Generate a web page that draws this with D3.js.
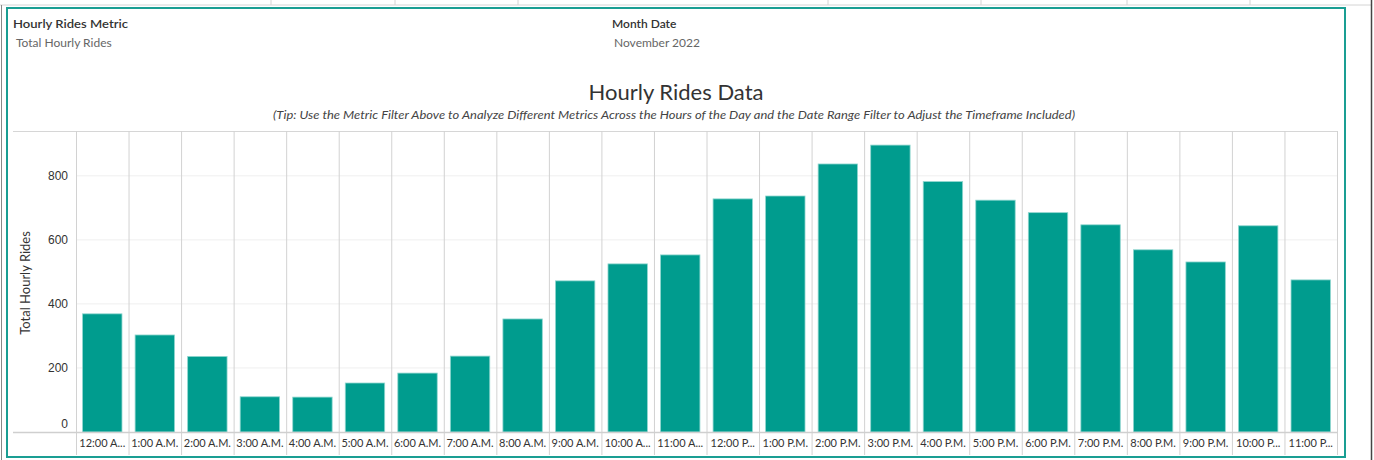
<!DOCTYPE html>
<html>
<head>
<meta charset="utf-8">
<script src="https://cdn.jsdelivr.net/npm/d3@7"></script>
<style>
  body { margin: 0; background: #fff; }
  svg text { font-family: Lato, "Open Sans", sans-serif; }
</style>
</head>
<body>
<div id="chart"></div>
<script>
// Data
var hours = ["12:00 A.M.", "1:00 A.M.", "2:00 A.M.", "3:00 A.M.", "4:00 A.M.", "5:00 A.M.",
    "6:00 A.M.", "7:00 A.M.", "8:00 A.M.", "9:00 A.M.", "10:00 A.M.", "11:00 A.M.",
    "12:00 P.M.", "1:00 P.M.", "2:00 P.M.", "3:00 P.M.", "4:00 P.M.", "5:00 P.M.",
    "6:00 P.M.", "7:00 P.M.", "8:00 P.M.", "9:00 P.M.", "10:00 P.M.", "11:00 P.M."];
var rides = [369, 303, 236, 110, 109, 153, 184, 237, 353, 472, 525, 553,
    728, 737, 837, 896, 782, 724, 685, 647, 569, 531, 644, 475];
var yTicks = [0, 200, 400, 600, 800];

var svgWidth = 1374;
var svgHeight = 460;

var plot = { left: 76, right: 1337, top: 131, bottom: 432 };

var svg = d3.select("#chart")
    .append("svg")
    .attr("width", svgWidth)
    .attr("height", svgHeight);

// header strip of the dashboard (cut off at the top)
svg.append("line")
    .attr("x1", 0).attr("x2", 1371).attr("y1", 5).attr("y2", 5)
    .attr("stroke", "#d4d4d4");
[271, 395, 518, 828, 981, 1127, 1250].forEach(function(x) {
    svg.append("line")
        .attr("x1", x).attr("x2", x).attr("y1", 0).attr("y2", 5)
        .attr("stroke", "#d4d4d4");
});
svg.append("line")
    .attr("x1", 1371.5).attr("x2", 1371.5).attr("y1", 0).attr("y2", 460)
    .attr("stroke", "#444").attr("stroke-width", 1.5);
svg.append("line")
    .attr("x1", 1.5).attr("x2", 1.5).attr("y1", 5).attr("y2", 460)
    .attr("stroke", "#888");

// teal container border
svg.append("rect")
    .attr("x", 7).attr("y", 8)
    .attr("width", 1338).attr("height", 449)
    .attr("fill", "none")
    .attr("stroke", "#1a9e93")
    .attr("stroke-width", 2);

// filter captions
svg.append("text").attr("x", 13).attr("y", 28)
    .attr("font-size", "12px").attr("font-weight", 600).attr("fill", "#333")
    .attr("textLength", 115).attr("lengthAdjust", "spacingAndGlyphs")
    .text("Hourly Rides Metric");
svg.append("text").attr("x", 16).attr("y", 47)
    .attr("font-size", "12px").attr("fill", "#666")
    .text("Total Hourly Rides");
svg.append("text").attr("x", 612).attr("y", 28)
    .attr("font-size", "12px").attr("font-weight", 600).attr("fill", "#333")
    .text("Month Date");
svg.append("text").attr("x", 614).attr("y", 47)
    .attr("font-size", "12px").attr("fill", "#666")
    .text("November 2022");

// titles
svg.append("text")
    .attr("x", 676).attr("y", 100)
    .attr("text-anchor", "middle")
    .attr("font-size", "21px").attr("fill", "#333")
    .attr("textLength", 175).attr("lengthAdjust", "spacingAndGlyphs")
    .text("Hourly Rides Data");
svg.append("text")
    .attr("x", 674).attr("y", 119)
    .attr("text-anchor", "middle")
    .attr("font-size", "11.5px").attr("font-style", "italic").attr("fill", "#444")
    .attr("textLength", 802).attr("lengthAdjust", "spacingAndGlyphs")
    .text("(Tip: Use the Metric Filter Above to Analyze Different Metrics Across the Hours of the Day and the Date Range Filter to Adjust the Timeframe Included)");

// scales
var xScale = d3.scaleBand()
    .domain(hours)
    .range([plot.left, plot.right])
    .paddingInner(0.25)
    .paddingOuter(0.125);

var yScale = d3.scaleLinear()
    .domain([0, 940])
    .range([plot.bottom, plot.top]);

var step = xScale.step();

// horizontal gridlines
svg.append("g")
    .selectAll("line")
    .data(yTicks.slice(1))
    .enter()
    .append("line")
    .attr("x1", plot.left).attr("x2", plot.right)
    .attr("y1", d => yScale(d)).attr("y2", d => yScale(d))
    .attr("stroke", "#efefef");

// pane outlines
svg.append("line")
    .attr("x1", 13).attr("x2", plot.right)
    .attr("y1", plot.top + 0.5).attr("y2", plot.top + 0.5)
    .attr("stroke", "#d6d6d6");

// column separators
svg.append("g")
    .selectAll("line")
    .data(d3.range(hours.length + 1))
    .enter()
    .append("line")
    .attr("x1", i => plot.left + i * step + 0.5)
    .attr("x2", i => plot.left + i * step + 0.5)
    .attr("y1", plot.top)
    .attr("y2", 455)
    .attr("stroke", "#d2d2d2");

// bars
svg.append("g")
    .selectAll("rect")
    .data(hours)
    .enter()
    .append("rect")
    .attr("x", d => xScale(d))
    .attr("y", (d, i) => yScale(rides[i]))
    .attr("width", xScale.bandwidth())
    .attr("height", (d, i) => plot.bottom - yScale(rides[i]))
    .attr("fill", "#009c8e")
    .attr("stroke", "#8fd6cf")
    .attr("stroke-width", 0.8);

// zero line
svg.append("line")
    .attr("x1", 13).attr("x2", plot.right)
    .attr("y1", plot.bottom + 0.5).attr("y2", plot.bottom + 0.5)
    .attr("stroke", "#cfcfcf").attr("stroke-width", 1.5);

// y axis
var leftAxis = d3.axisLeft(yScale).tickValues(yTicks).tickSize(0).tickPadding(8);
var yAxis = svg.append("g")
    .attr("transform", `translate(${plot.left}, 0)`)
    .call(leftAxis);
yAxis.select(".domain").remove();
yAxis.selectAll("text")
    .attr("font-size", "12px")
    .attr("fill", "#333")
    .style("font-family", "'Liberation Sans', Arial, sans-serif")
    .attr("dy", (d) => d === 0 ? "-0.4em" : "0.32em");

svg.append("text")
    .attr("transform", "translate(30, 283) rotate(-90)")
    .attr("text-anchor", "middle")
    .attr("font-size", "13px")
    .attr("fill", "#333")
    .text("Total Hourly Rides");

// x axis labels, truncated to fit each column
var bottomAxis = d3.axisBottom(xScale).tickSize(0).tickPadding(7);
var xAxis = svg.append("g")
    .attr("transform", `translate(0, ${plot.bottom})`)
    .call(bottomAxis);
xAxis.select(".domain").remove();
xAxis.selectAll("text")
    .attr("font-size", "11px")
    .attr("fill", "#333")
    .each(function(d) {
        var t = d3.select(this);
        var maxW = step - 3;
        if (this.getComputedTextLength() > maxW) {
            var s = d;
            while (s.length > 1) {
                s = s.slice(0, -1);
                t.text(s.replace(/[.\s]+$/, "") + "...");
                if (this.getComputedTextLength() <= maxW) break;
            }
        }
    });
</script>
</body>
</html>
